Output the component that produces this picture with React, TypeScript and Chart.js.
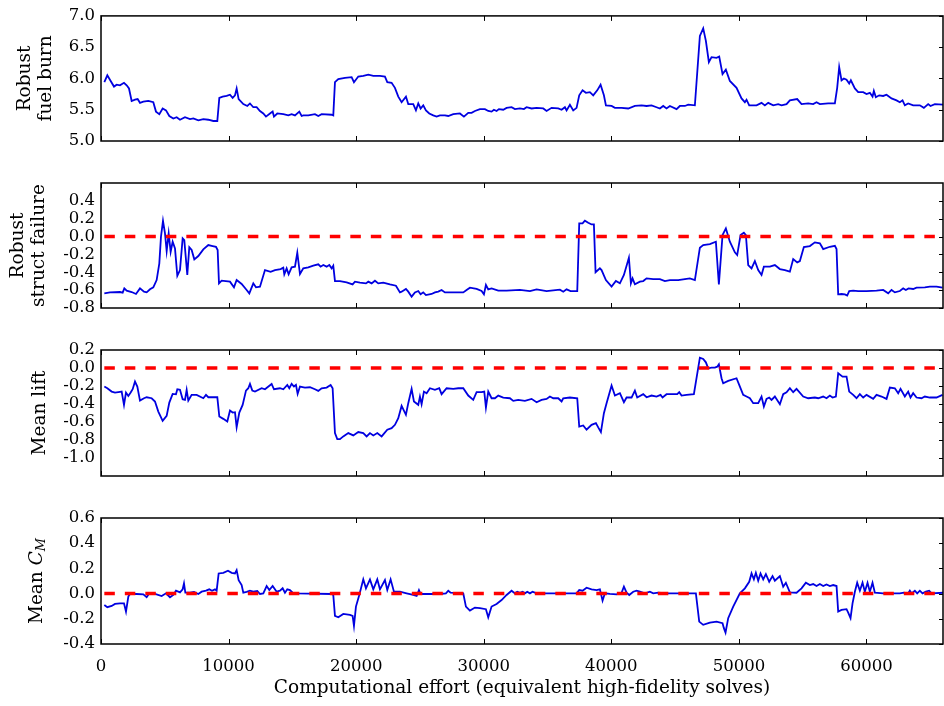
import React, { useEffect, useRef } from "react";
import { Chart, registerables } from "chart.js";

Chart.register(...registerables);

// ---------------- data ----------------
const X_MIN = 0;
const X_MAX = 66000;
const X_TICKS = [0, 10000, 20000, 30000, 40000, 50000, 60000];
const X_TITLE = "Computational effort (equivalent high-fidelity solves)";

const FUEL_TITLE = ["Robust", "fuel burn"];
const FUEL_TICKS = [5.0, 5.5, 6.0, 6.5, 7.0];
const FUEL_X = [261, 496, 758, 1019, 1228, 1489, 1802, 2012, 2194, 2403, 2665, 2873, 3056, 3317, 3709, 4100, 4310, 4572, 4833, 5094, 5355, 5669, 5930, 6191, 6583, 6975, 7236, 7628, 8020, 8412, 8804, 9117, 9274, 9535, 9849, 10110, 10319, 10502, 10632, 10789, 11155, 11469, 11677, 11938, 12200, 12461, 12722, 12931, 13245, 13454, 13558, 13819, 14289, 14681, 14942, 15204, 15543, 15726, 15857, 16248, 16771, 17032, 17293, 18077, 18207, 18339, 18600, 19122, 19645, 19828, 20167, 20559, 20951, 21343, 21865, 22257, 22440, 22779, 23041, 23302, 23563, 23903, 24085, 24477, 24686, 24869, 25052, 25260, 25470, 25731, 26045, 26306, 26567, 26959, 27220, 27612, 28134, 28448, 28787, 29049, 29310, 29702, 30094, 30355, 30616, 30799, 31008, 31191, 31530, 31791, 32183, 32445, 32837, 33150, 33359, 33752, 34143, 34666, 34927, 35319, 35841, 36102, 36364, 36494, 36756, 37016, 37278, 37486, 37747, 38009, 38322, 38583, 38897, 39159, 39420, 39577, 40021, 40282, 40805, 41326, 41849, 42372, 42764, 43155, 43547, 43808, 44069, 44330, 44592, 45114, 45375, 45767, 46028, 46551, 46943, 47204, 47413, 47648, 47857, 48249, 48458, 48719, 48980, 49294, 49816, 50208, 50470, 50600, 50809, 51384, 51776, 52037, 52298, 52690, 53082, 53343, 53735, 53996, 54571, 54911, 55432, 55825, 56086, 56348, 57000, 57525, 57706, 57863, 58046, 58230, 58439, 58647, 58778, 59091, 59352, 59744, 60006, 60267, 60476, 60580, 60737, 60998, 61312, 61573, 61965, 62357, 62618, 62827, 63010, 63270, 63662, 64185, 64499, 64837, 65020, 65360, 66066];
const FUEL_Y = [5.94, 6.05, 5.96, 5.87, 5.90, 5.89, 5.93, 5.89, 5.84, 5.64, 5.66, 5.67, 5.61, 5.63, 5.64, 5.62, 5.47, 5.43, 5.52, 5.49, 5.40, 5.36, 5.38, 5.34, 5.38, 5.35, 5.36, 5.33, 5.35, 5.34, 5.32, 5.32, 5.69, 5.71, 5.72, 5.74, 5.69, 5.73, 5.84, 5.67, 5.59, 5.56, 5.60, 5.54, 5.54, 5.48, 5.44, 5.39, 5.44, 5.47, 5.39, 5.44, 5.43, 5.41, 5.43, 5.41, 5.47, 5.40, 5.41, 5.41, 5.43, 5.40, 5.43, 5.42, 5.41, 5.94, 5.99, 6.01, 6.02, 5.94, 6.03, 6.04, 6.06, 6.04, 6.04, 6.03, 5.94, 5.93, 5.85, 5.71, 5.62, 5.71, 5.59, 5.59, 5.49, 5.60, 5.52, 5.57, 5.49, 5.44, 5.41, 5.39, 5.41, 5.41, 5.40, 5.43, 5.44, 5.39, 5.45, 5.45, 5.48, 5.51, 5.51, 5.48, 5.47, 5.50, 5.48, 5.51, 5.50, 5.53, 5.54, 5.51, 5.52, 5.51, 5.54, 5.52, 5.53, 5.52, 5.48, 5.53, 5.52, 5.50, 5.54, 5.49, 5.58, 5.49, 5.53, 5.73, 5.81, 5.77, 5.78, 5.73, 5.81, 5.90, 5.73, 5.57, 5.56, 5.53, 5.53, 5.52, 5.56, 5.57, 5.56, 5.57, 5.54, 5.52, 5.56, 5.52, 5.56, 5.51, 5.56, 5.56, 5.58, 5.57, 6.68, 6.80, 6.60, 6.26, 6.34, 6.33, 6.35, 6.07, 6.14, 5.96, 5.85, 5.68, 5.62, 5.66, 5.57, 5.57, 5.61, 5.57, 5.61, 5.57, 5.59, 5.57, 5.59, 5.65, 5.67, 5.59, 5.60, 5.59, 5.62, 5.59, 5.60, 5.60, 5.85, 6.18, 5.97, 6.00, 5.98, 5.92, 5.97, 5.84, 5.78, 5.78, 5.75, 5.77, 5.71, 5.80, 5.70, 5.73, 5.72, 5.74, 5.68, 5.65, 5.62, 5.65, 5.57, 5.60, 5.57, 5.57, 5.53, 5.59, 5.56, 5.59, 5.58];

const STRUCT_TITLE = ["Robust", "struct failure"];
const STRUCT_TICKS = [-0.8, -0.6, -0.4, -0.2, 0.0, 0.2, 0.4];
const STRUCT_X = [261, 705, 1489, 1698, 1828, 2012, 2403, 2743, 3056, 3370, 3579, 3840, 4100, 4362, 4572, 4702, 4859, 5016, 5147, 5304, 5460, 5617, 5800, 5982, 6191, 6400, 6529, 6764, 6921, 7106, 7314, 7628, 8020, 8412, 8752, 9013, 9143, 9248, 9457, 10110, 10423, 10632, 11024, 11416, 11625, 11938, 12147, 12461, 12853, 13297, 13636, 14081, 14289, 14368, 14551, 14708, 14942, 15204, 15387, 15596, 15857, 16248, 16640, 17032, 17215, 17424, 17686, 17894, 18077, 18207, 18339, 18730, 19253, 19723, 19906, 20298, 20768, 20951, 21212, 21473, 21734, 22126, 22649, 23119, 23433, 23563, 23902, 24085, 24347, 24608, 24869, 25052, 25260, 25470, 25914, 26175, 26436, 26698, 26959, 27612, 28396, 28657, 28918, 29441, 29833, 30016, 30173, 30355, 30616, 31139, 31792, 32837, 33621, 34144, 34927, 35449, 35972, 36233, 36494, 36808, 37330, 37486, 37747, 37930, 38191, 38453, 38636, 38766, 39106, 39236, 39576, 40021, 40360, 40674, 40988, 41379, 41536, 41666, 41849, 42241, 42502, 42764, 43286, 43808, 44200, 44592, 45245, 45767, 46159, 46551, 46943, 47204, 47727, 48197, 48432, 48720, 48980, 49294, 49686, 49868, 50130, 50392, 50548, 50731, 50992, 51253, 51515, 51776, 51959, 52429, 52821, 53213, 53605, 53997, 54258, 54571, 54780, 55094, 55564, 55956, 56348, 56609, 57132, 57524, 57655, 57785, 58046, 58308, 58491, 58648, 58961, 59353, 60006, 60790, 61312, 61704, 61965, 62226, 62618, 62879, 63088, 63297, 63662, 63924, 64577, 64969, 65491, 65961];
const STRUCT_Y = [-0.636, -0.625, -0.621, -0.628, -0.58, -0.606, -0.621, -0.643, -0.58, -0.617, -0.625, -0.59, -0.569, -0.487, -0.30, 0.0, 0.177, 0.035, -0.162, 0.035, -0.17, -0.058, -0.132, -0.44, -0.375, -0.02, -0.04, -0.43, -0.12, -0.15, -0.255, -0.218, -0.144, -0.095, -0.106, -0.114, -0.151, -0.524, -0.494, -0.505, -0.568, -0.487, -0.531, -0.598, -0.636, -0.524, -0.568, -0.561, -0.375, -0.394, -0.375, -0.364, -0.349, -0.423, -0.356, -0.423, -0.345, -0.337, -0.181, -0.42, -0.356, -0.345, -0.326, -0.311, -0.337, -0.319, -0.337, -0.319, -0.356, -0.326, -0.498, -0.498, -0.513, -0.535, -0.505, -0.516, -0.524, -0.505, -0.524, -0.494, -0.524, -0.516, -0.535, -0.55, -0.625, -0.617, -0.587, -0.617, -0.673, -0.625, -0.61, -0.647, -0.625, -0.655, -0.643, -0.625, -0.617, -0.598, -0.625, -0.625, -0.625, -0.598, -0.572, -0.587, -0.61, -0.647, -0.542, -0.591, -0.58, -0.606, -0.606, -0.598, -0.61, -0.591, -0.61, -0.602, -0.595, -0.617, -0.591, -0.61, -0.61, 0.147, 0.147, 0.177, 0.155, 0.136, 0.136, -0.40, -0.356, -0.375, -0.487, -0.561, -0.498, -0.524, -0.43, -0.237, -0.524, -0.468, -0.535, -0.505, -0.498, -0.468, -0.476, -0.476, -0.498, -0.487, -0.487, -0.476, -0.468, -0.487, -0.125, -0.095, -0.084, -0.058, -0.535, 0.017, 0.091, -0.058, -0.177, -0.207, 0.017, 0.043, 0.017, -0.319, -0.356, -0.274, -0.375, -0.43, -0.337, -0.337, -0.319, -0.364, -0.375, -0.393, -0.252, -0.289, -0.274, -0.118, -0.106, -0.065, -0.076, -0.14, -0.114, -0.103, -0.14, -0.647, -0.643, -0.647, -0.661, -0.61, -0.606, -0.61, -0.61, -0.606, -0.598, -0.636, -0.598, -0.625, -0.61, -0.58, -0.598, -0.58, -0.587, -0.572, -0.569, -0.561, -0.561, -0.572];

const LIFT_TITLE = ["Mean lift"];
const LIFT_TICKS = [-1.0, -0.8, -0.6, -0.4, -0.2, 0.0, 0.2];
const LIFT_X = [261, 496, 836, 1097, 1489, 1620, 1802, 1959, 2142, 2325, 2482, 2665, 2847, 3056, 3370, 3579, 3971, 4232, 4493, 4833, 5146, 5355, 5617, 5878, 5982, 6191, 6400, 6583, 6714, 6844, 7106, 7498, 8020, 8229, 8412, 9117, 9274, 9587, 9901, 10110, 10319, 10502, 10632, 10841, 11103, 11364, 11546, 11677, 11860, 12069, 12592, 12853, 13375, 13558, 14028, 14290, 14603, 14760, 14943, 15125, 15282, 15413, 15596, 15988, 16380, 16771, 17032, 17293, 17686, 17999, 18156, 18339, 18521, 18730, 18991, 19384, 19776, 20167, 20559, 20821, 21082, 21343, 21657, 21996, 22440, 22779, 23041, 23302, 23563, 23902, 24085, 24347, 24530, 24869, 25000, 25130, 25313, 25522, 25784, 26175, 26514, 26698, 27090, 27612, 28004, 28396, 28787, 29179, 29441, 29833, 30042, 30173, 30355, 30616, 30878, 31139, 31531, 32053, 32314, 32706, 33229, 33751, 34143, 34535, 34927, 35188, 35449, 35841, 36103, 36233, 36756, 37330, 37486, 37799, 38061, 38453, 38793, 38975, 39185, 39420, 39629, 40021, 40283, 40674, 40988, 41197, 41588, 41849, 42032, 42502, 42764, 43155, 43547, 43861, 44017, 44331, 44853, 45167, 45324, 45506, 45898, 46473, 46943, 47204, 47413, 47596, 47857, 48118, 48301, 48432, 48640, 48771, 49163, 49816, 50025, 50338, 50600, 50862, 51123, 51515, 51776, 51959, 52168, 52377, 52560, 52821, 53213, 53474, 53735, 53997, 54258, 54519, 55042, 55434, 55956, 56217, 56609, 56870, 57132, 57341, 57603, 57785, 58125, 58439, 58648, 58961, 59222, 59483, 59744, 60006, 60528, 60790, 61182, 61574, 61835, 62227, 62488, 62671, 63010, 63271, 63454, 63662, 63924, 64316, 64577, 64969, 65491, 65961];
const LIFT_Y = [-0.206, -0.225, -0.262, -0.273, -0.265, -0.262, -0.41, -0.273, -0.31, -0.273, -0.236, -0.151, -0.206, -0.362, -0.336, -0.325, -0.336, -0.373, -0.484, -0.587, -0.532, -0.384, -0.288, -0.292, -0.236, -0.243, -0.347, -0.354, -0.243, -0.362, -0.299, -0.299, -0.336, -0.299, -0.325, -0.325, -0.539, -0.565, -0.595, -0.473, -0.495, -0.491, -0.658, -0.495, -0.41, -0.251, -0.225, -0.177, -0.251, -0.262, -0.225, -0.236, -0.177, -0.236, -0.225, -0.236, -0.188, -0.225, -0.177, -0.206, -0.188, -0.288, -0.206, -0.217, -0.214, -0.236, -0.254, -0.225, -0.217, -0.188, -0.225, -0.723, -0.79, -0.79, -0.76, -0.723, -0.749, -0.712, -0.723, -0.76, -0.723, -0.749, -0.723, -0.76, -0.686, -0.668, -0.631, -0.557, -0.421, -0.52, -0.391, -0.232, -0.372, -0.409, -0.317, -0.402, -0.262, -0.28, -0.225, -0.243, -0.225, -0.291, -0.225, -0.232, -0.225, -0.225, -0.306, -0.354, -0.269, -0.269, -0.262, -0.439, -0.262, -0.336, -0.336, -0.306, -0.328, -0.336, -0.365, -0.354, -0.365, -0.343, -0.38, -0.354, -0.343, -0.317, -0.336, -0.336, -0.372, -0.336, -0.328, -0.336, -0.65, -0.638, -0.686, -0.631, -0.612, -0.66, -0.712, -0.502, -0.391, -0.195, -0.306, -0.28, -0.38, -0.328, -0.328, -0.251, -0.328, -0.291, -0.325, -0.306, -0.317, -0.299, -0.328, -0.291, -0.291, -0.291, -0.269, -0.306, -0.299, -0.291, 0.115, 0.10, 0.063, -0.003, 0.004, 0.004, 0.015, 0.041, -0.114, -0.17, -0.144, -0.114, -0.188, -0.299, -0.317, -0.336, -0.391, -0.391, -0.317, -0.428, -0.343, -0.328, -0.354, -0.317, -0.402, -0.291, -0.269, -0.225, -0.269, -0.232, -0.317, -0.336, -0.328, -0.336, -0.317, -0.336, -0.306, -0.328, -0.317, -0.059, -0.096, -0.096, -0.262, -0.299, -0.336, -0.291, -0.328, -0.299, -0.343, -0.299, -0.317, -0.343, -0.217, -0.225, -0.28, -0.232, -0.317, -0.262, -0.328, -0.28, -0.328, -0.336, -0.317, -0.328, -0.328, -0.299];

const CM_TICKS = [-0.4, -0.2, 0.0, 0.2, 0.4, 0.6];
const CM_X = [261, 496, 836, 1097, 1489, 1802, 1959, 2142, 2273, 2795, 3317, 3579, 3788, 4232, 4754, 5094, 5408, 5669, 5878, 6191, 6400, 6505, 6610, 6975, 7289, 7628, 7890, 8229, 8490, 8700, 8934, 9065, 9222, 9588, 9953, 10240, 10502, 10632, 10789, 11024, 11155, 11416, 11677, 11938, 12252, 12461, 12722, 12984, 13193, 13454, 13767, 14029, 14237, 14420, 14603, 14812, 15020, 15334, 18077, 18207, 18339, 18600, 18991, 19514, 19723, 19828, 19984, 20246, 20559, 20768, 21082, 21343, 21657, 21865, 22257, 22440, 22701, 22962, 23432, 23955, 24477, 24739, 24922, 25052, 25522, 26567, 27037, 27220, 27403, 28396, 28604, 28918, 29310, 29702, 30172, 30355, 30616, 31008, 31400, 31792, 32184, 32445, 32628, 32837, 33046, 33229, 33411, 33621, 33830, 34143, 37278, 37486, 37747, 38061, 38453, 38844, 39106, 39315, 39498, 39890, 40412, 40804, 40988, 41197, 41405, 41718, 41980, 42241, 42633, 43025, 43286, 43678, 44331, 46630, 46891, 47203, 47727, 48249, 48719, 48824, 48954, 49163, 49555, 50078, 50470, 50810, 50993, 51176, 51332, 51515, 51698, 51907, 52116, 52377, 52638, 52821, 53213, 53474, 53683, 53997, 54519, 54911, 55251, 55564, 55825, 56087, 56348, 56609, 56870, 57132, 57393, 57655, 57785, 58046, 58438, 58569, 58752, 58909, 59092, 59274, 59483, 59692, 59875, 60084, 60267, 60475, 60658, 61311, 62618, 62931, 63271, 63401, 63532, 63793, 63976, 64185, 64394, 64655, 64916, 65100, 66065];
const CM_Y = [-0.09, -0.108, -0.098, -0.082, -0.077, -0.077, -0.143, -0.024, -0.003, -0.003, -0.006, -0.029, 0.002, -0.003, -0.019, 0.002, -0.029, -0.011, 0.023, 0.01, 0.034, 0.081, 0.007, 0.007, 0.013, -0.003, 0.015, 0.023, 0.034, 0.023, 0.034, 0.023, 0.16, 0.165, 0.181, 0.165, 0.16, 0.186, 0.107, 0.068, 0.007, 0.013, 0.023, 0.015, 0.021, -0.003, 0.002, 0.06, 0.028, 0.06, 0.015, 0.023, 0.042, 0.007, 0.034, 0.028, 0.007, 0.002, -0.003, -0.011, -0.177, -0.188, -0.161, -0.169, -0.177, -0.256, -0.103, -0.011, 0.113, 0.042, 0.113, 0.034, 0.113, 0.034, 0.108, 0.029, 0.113, 0.015, 0.015, 0.002, -0.011, -0.019, 0.028, -0.003, -0.003, -0.003, 0.002, 0.023, 0.007, 0.002, -0.103, -0.135, -0.111, -0.116, -0.124, -0.188, -0.103, -0.082, -0.051, -0.011, 0.023, 0.002, 0.015, 0.007, 0.015, 0.002, 0.015, 0.002, 0.015, 0.002, 0.002, 0.028, 0.023, 0.047, 0.034, 0.028, 0.034, -0.056, 0.002, -0.003, -0.006, 0.007, 0.055, 0.007, -0.011, 0.015, 0.023, 0.015, 0.002, 0.015, 0.002, 0.007, 0.002, 0.002, -0.222, -0.248, -0.23, -0.222, -0.235, -0.274, -0.309, -0.195, -0.103, 0.002, 0.042, 0.094, 0.16, 0.113, 0.165, 0.102, 0.16, 0.113, 0.155, 0.094, 0.139, 0.102, 0.139, 0.055, 0.086, 0.01, 0.007, 0.042, 0.086, 0.068, 0.076, 0.06, 0.076, 0.06, 0.073, 0.06, 0.068, 0.06, -0.143, -0.13, -0.124, -0.151, -0.195, -0.077, 0.015, 0.086, 0.023, 0.086, 0.015, 0.086, 0.015, 0.086, 0.007, 0.002, 0.002, 0.007, 0.002, 0.023, 0.002, 0.023, 0.002, 0.023, 0.002, 0.015, 0.023, 0.002, 0.007];

const FAILURE_LEVEL = 0;

// ---------------- layout & style ----------------
const PAGE_W = 944;
const PAGE_H = 706;
const PLOT_LEFT = 101;
const PLOT_RIGHT = 943;
const SERIF = '"DejaVu Serif", serif';
const TICK_FONT_SIZE = 16.5;
const LABEL_FONT_SIZE = 18.5;
const BLUE = "#0000e0";
const RED = "#ff0000";

type PanelDef = {
  top: number;
  bottom: number;
  yMin: number;
  yMax: number;
  yTicks: number[];
  xs: number[];
  ys: number[];
  title: string[] | null;
  titlePad: number;
  zero: boolean;
  showX: boolean;
  cmTitleX?: number;
};

const PANELS: PanelDef[] = [
  { top: 15, bottom: 141, yMin: 5.0, yMax: 7.0, yTicks: FUEL_TICKS, xs: FUEL_X, ys: FUEL_Y, title: FUEL_TITLE, titlePad: 14.5, zero: false, showX: false },
  { top: 183, bottom: 308, yMin: -0.8, yMax: 0.6, yTicks: STRUCT_TICKS, xs: STRUCT_X, ys: STRUCT_Y, title: STRUCT_TITLE, titlePad: 7.5, zero: true, showX: false },
  { top: 350, bottom: 476, yMin: -1.2, yMax: 0.2, yTicks: LIFT_TICKS, xs: LIFT_X, ys: LIFT_Y, title: LIFT_TITLE, titlePad: 30, zero: true, showX: false },
  { top: 518, bottom: 644, yMin: -0.4, yMax: 0.6, yTicks: CM_TICKS, xs: CM_X, ys: CM_Y, title: null, titlePad: 0, zero: true, showX: true, cmTitleX: 37 },
];

const framePlugin = {
  id: "frameTicks",
  afterDraw(chart: any, _args: any, opts: any) {
    const { ctx, chartArea } = chart;
    const xs = chart.scales.x;
    const ys = chart.scales.y;
    const { left, right, top, bottom } = chartArea;
    ctx.save();
    ctx.strokeStyle = "#000";
    ctx.lineWidth = 1;
    ctx.beginPath();
    for (const v of X_TICKS) {
      const px = Math.round(xs.getPixelForValue(v)) + 0.5;
      ctx.moveTo(px, top);
      ctx.lineTo(px, top + 5);
      ctx.moveTo(px, bottom);
      ctx.lineTo(px, bottom - 5);
    }
    for (const v of opts.yTicks as number[]) {
      const py = Math.round(ys.getPixelForValue(v)) + 0.5;
      ctx.moveTo(right, py);
      ctx.lineTo(right - 4, py);
    }
    ctx.stroke();
    ctx.lineWidth = 1.5;
    ctx.strokeRect(left, top, right - left, bottom - top);

    if (opts.cmTitleX) {
      const cy = (top + bottom) / 2;
      const parts = [
        { t: "Mean ", f: `${LABEL_FONT_SIZE}px ${SERIF}`, dy: 0 },
        { t: "C", f: `italic ${LABEL_FONT_SIZE}px ${SERIF}`, dy: 0 },
        { t: "M", f: `italic ${LABEL_FONT_SIZE * 0.7}px ${SERIF}`, dy: 5 },
      ];
      let total = 0;
      const widths = parts.map((p) => {
        ctx.font = p.f;
        const w = ctx.measureText(p.t).width;
        total += w;
        return w;
      });
      ctx.translate(opts.cmTitleX, cy);
      ctx.rotate(-Math.PI / 2);
      ctx.fillStyle = "#000";
      ctx.textBaseline = "middle";
      ctx.textAlign = "left";
      let x = -total / 2;
      parts.forEach((p, i) => {
        ctx.font = p.f;
        ctx.fillText(p.t, x, p.dy);
        x += widths[i];
      });
    }
    ctx.restore();
  },
};

function makeConfig(p: PanelDef): any {
  const datasets: any[] = [];
  if (p.zero) {
    datasets.push({
      data: [
        { x: p.xs[0], y: FAILURE_LEVEL },
        { x: p.xs[p.xs.length - 1], y: FAILURE_LEVEL },
      ],
      borderColor: RED,
      borderWidth: 3.5,
      borderDash: [10.5, 10],
      borderCapStyle: "butt",
      pointRadius: 0,
      fill: false,
      order: 0,
    });
  }
  datasets.push({
    data: p.xs.map((x, i) => ({ x, y: p.ys[i] })),
    borderColor: BLUE,
    borderWidth: 1.8,
    pointRadius: 0,
    tension: 0,
    fill: false,
    order: 1,
  });
  const tickFont = { family: SERIF, size: TICK_FONT_SIZE };
  const labelFont = { family: SERIF, size: LABEL_FONT_SIZE, lineHeight: 1.15 };
  return {
    type: "line",
    data: { datasets },
    options: {
      responsive: false,
      animation: false,
      devicePixelRatio: 1,
      events: [],
      layout: { padding: { top: p.top, left: 0, right: PAGE_W - PLOT_RIGHT, bottom: 0 } },
      plugins: {
        legend: { display: false },
        tooltip: { enabled: false },
        frameTicks: { yTicks: p.yTicks, cmTitleX: p.cmTitleX },
      },
      scales: {
        x: {
          type: "linear",
          min: X_MIN,
          max: X_MAX,
          position: "bottom",
          afterBuildTicks: (s: any) => {
            s.ticks = X_TICKS.map((v) => ({ value: v }));
          },
          afterFit: (s: any) => {
            s.height = PAGE_H - p.bottom;
          },
          grid: { display: false, drawTicks: false },
          border: { display: false },
          ticks: {
            display: p.showX,
            padding: 13,
            font: tickFont,
            color: "#000",
            maxRotation: 0,
            autoSkip: false,
            callback: (v: any) => String(v),
          },
          title: {
            display: p.showX,
            text: X_TITLE,
            font: labelFont,
            color: "#000",
            padding: { top: 0, bottom: 7 },
          },
        },
        y: {
          type: "linear",
          min: p.yMin,
          max: p.yMax,
          position: "left",
          afterBuildTicks: (s: any) => {
            s.ticks = p.yTicks.map((v) => ({ value: v }));
          },
          afterFit: (s: any) => {
            s.width = PLOT_LEFT;
          },
          grid: { display: false, drawTicks: false },
          border: { display: false },
          ticks: {
            padding: 6,
            font: tickFont,
            color: "#000",
            autoSkip: false,
            callback: (v: any) => Number(v).toFixed(1),
          },
          title: {
            display: !!p.title,
            text: p.title || "",
            font: labelFont,
            color: "#000",
            padding: { top: p.titlePad, bottom: 0 },
          },
        },
      },
    },
    plugins: [framePlugin],
  };
}

function Panel({ def }: { def: PanelDef }) {
  const ref = useRef<HTMLCanvasElement | null>(null);
  useEffect(() => {
    if (!ref.current) return;
    const chart = new Chart(ref.current, makeConfig(def));
    return () => chart.destroy();
  }, [def]);
  return (
    <canvas
      ref={ref}
      width={PAGE_W}
      height={PAGE_H}
      style={{ position: "absolute", left: 0, top: 0, width: PAGE_W, height: PAGE_H }}
    />
  );
}

export default function App() {
  return (
    <div
      style={{
        position: "absolute",
        left: 0,
        top: 0,
        width: PAGE_W,
        height: PAGE_H,
        background: "#fff",
        overflow: "hidden",
      }}
    >
      {PANELS.map((d, i) => (
        <Panel key={i} def={d} />
      ))}
    </div>
  );
}
